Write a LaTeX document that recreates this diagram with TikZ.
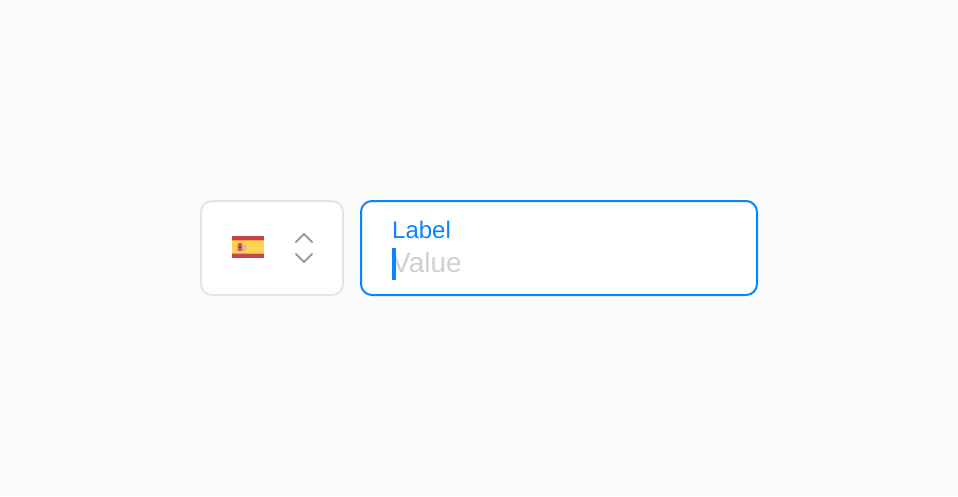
\documentclass[tikz,border=0pt]{standalone}
\usepackage{fontspec}
\setmainfont{Liberation Sans}
\definecolor{pagebg}{HTML}{FBFBFB}
\definecolor{boxgrey}{HTML}{E4E5E6}
\definecolor{focusblue}{HTML}{0A84FF}
\definecolor{valuegrey}{HTML}{CDD0D4}
\definecolor{chevgrey}{HTML}{9A9EA3}
\definecolor{flagred}{HTML}{C8414B}
\definecolor{flagyellow}{HTML}{FFD250}
\definecolor{flagorange}{HTML}{F5A33C}
\tikzset{
  fieldbox/.style={rounded corners=11pt, line width=2pt, fill=white},
  chevron/.style={draw=chevgrey, line width=1.8pt}
}
\begin{document}
\begin{tikzpicture}[x=1pt, y=-1pt]
    % Fond
    \fill[pagebg] (0,0) rectangle (958,496);
    \useasboundingbox (0,0) rectangle (958,496);

    % Selecteur de pays
    \draw[fieldbox, draw=boxgrey] (201,201) rectangle (343,295);

    % Drapeau
    \fill[flagred] (232,236) rectangle (264,258);
    \fill[flagyellow] (232,241) rectangle (264,253);
    \fill[flagorange] (232,240.3) rectangle (264,241);
    \fill[flagorange] (232,253) rectangle (264,253.7);
    \fill[flagred!75!flagorange] (238,243) rectangle (241.5,251);
    \fill[flagred!45!white] (241.5,244.5) rectangle (244.5,251);
    \fill[flagorange!80!white] (236,245) rectangle (238,251);
    \fill[flagorange!80!white] (244.5,245) rectangle (246,251);
    \fill[flagred!80!black] (239,246) rectangle (240.5,248);

    % Chevrons
    \draw[chevron] (295.5,242.5) -- (304,234) -- (312.5,242.5);
    \draw[chevron] (295.5,253.5) -- (304,262) -- (312.5,253.5);

    % Champ actif
    \draw[fieldbox, draw=focusblue] (361,201) rectangle (757,295);
    \node[anchor=base west, inner sep=0pt, text=focusblue, font=\fontsize{24}{26}\selectfont] (label) at (392,238.5) {Label};
    \node[anchor=base west, inner sep=0pt, text=valuegrey, font=\fontsize{28}{30}\selectfont] (value) at (392,272.5) {Value};
    \fill[focusblue] (392,248) rectangle (396,280);
\end{tikzpicture}
\end{document}
